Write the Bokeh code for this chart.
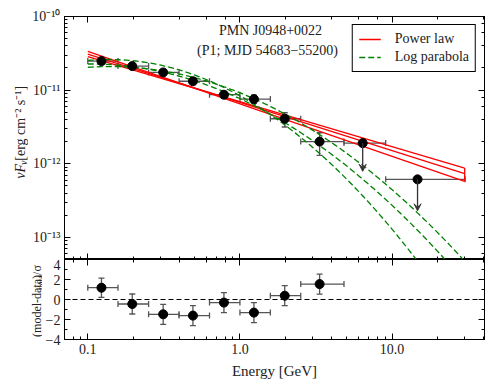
import glob
import struct
import numpy as np
from bokeh.plotting import figure
from bokeh.layouts import column, row
from bokeh.models import (ColumnDataSource, Whisker, TeeHead, Arrow, VeeHead, Span,
                          LogAxis, LinearAxis, Range1d, FixedTicker, CustomJSTickFormatter,
                          Legend, LegendItem, Label, LogTicker)
from bokeh.core.properties import value
from bokeh.embed import file_html
from bokeh.resources import INLINE

FONT = "Liberation Serif"

# ---------------- data ----------------
# SED flux points (GeV, erg cm^-2 s^-1)
energy = [0.123, 0.196, 0.313, 0.491, 0.785, 1.236, 1.97, 3.34]
e_lo = [0.100, 0.158, 0.251, 0.398, 0.631, 1.000, 1.585, 2.51]
e_hi = [0.158, 0.251, 0.398, 0.631, 1.000, 1.585, 2.51, 4.83]
flux = [2.48e-11, 2.12e-11, 1.74e-11, 1.32e-11, 8.67e-12, 7.55e-12, 4.09e-12, 2.00e-12]
flux_lo = [2.30e-11, 1.96e-11, 1.61e-11, 1.21e-11, 7.90e-12, 6.60e-12, 3.16e-12, 1.30e-12]
flux_hi = [2.66e-11, 2.28e-11, 1.87e-11, 1.43e-11, 9.50e-12, 8.55e-12, 4.93e-12, 2.64e-12]

# upper limits
ul_energy = [6.41, 14.7]
ul_lo = [4.83, 9.08]
ul_hi = [9.08, 30.2]
ul_flux = [1.91e-12, 6.14e-13]
ul_tip = [7.9e-13, 2.3e-13]

# residuals (model-data)/sigma
residual = [1.18, -0.45, -1.48, -1.61, -0.31, -1.31, 0.38, 1.54]
residual_err = [0.96, 1.0, 1.0, 1.0, 1.0, 1.0, 1.0, 1.0]

# power-law butterfly: end points of the three lines
pl_energy = [0.1, 30.0]
pl_lines = [
    [3.35e-11, 5.77e-13],
    [3.09e-11, 7.35e-13],
    [2.86e-11, 8.75e-13],
]

# log-parabola curves: log10(nuFnu) = a + b*log10(E) + c*log10(E)^2
lp_a = [-11.036, -11.116, -11.077]
lp_b = [-0.831, -0.960, -1.146]
lp_c = [-0.485, -0.489, -0.666]
lp_emin, lp_emax = 0.1, 30.0

res_ticks = [-4, -2, 0, 2, 4]
res_minor = [-3, -1, 1, 3]

RED = "#ff0000"
GREEN = "#008000"
ERR = "#555555"
TXT = "#222222"

X_MIN, X_MAX = 0.0703, 40.5
Y_MIN, Y_MAX = 10 ** -13.3, 1e-10
R_MIN, R_MAX = -4, 4

# layout (pixels)
LAB1, LAB2 = 28, 42          # widths of the y-label strips
FRAME_L = 64                 # frame left edge on the page
BR, BT = 4, 16
FW, FH1, FH2 = 420, 243, 80
BB2 = 42
H1 = BT + FH1
H2 = FH2 + BB2

XR = Range1d(X_MIN, X_MAX)


# ---------- text width measurement from the installed font files ----------
def _load_font(fname):
    paths = (glob.glob("/usr/share/fonts/**/" + fname, recursive=True) +
             glob.glob("/usr/local/share/fonts/**/" + fname, recursive=True))
    if not paths:
        return None
    try:
        data = open(paths[0], "rb").read()
        ntab = struct.unpack(">H", data[4:6])[0]
        tabs = {}
        for i in range(ntab):
            rec = data[12 + 16 * i: 28 + 16 * i]
            tabs[rec[:4].decode("latin1")] = struct.unpack(">I", rec[8:12])[0]
        upm = struct.unpack(">H", data[tabs["head"] + 18: tabs["head"] + 20])[0]
        nhm = struct.unpack(">H", data[tabs["hhea"] + 34: tabs["hhea"] + 36])[0]
        hm = tabs["hmtx"]
        adv = [struct.unpack(">H", data[hm + 4 * i: hm + 4 * i + 2])[0] for i in range(nhm)]
        cm = tabs["cmap"]
        n = struct.unpack(">H", data[cm + 2: cm + 4])[0]
        sub = None
        for i in range(n):
            pid, eid, off = struct.unpack(">HHI", data[cm + 4 + 8 * i: cm + 12 + 8 * i])
            if (pid, eid) in ((3, 1), (0, 3), (0, 4)):
                fmt = struct.unpack(">H", data[cm + off: cm + off + 2])[0]
                if fmt == 4:
                    sub = cm + off
                    break
        if sub is None:
            return None
        seg2 = struct.unpack(">H", data[sub + 6: sub + 8])[0]
        seg = seg2 // 2
        ends = struct.unpack(">%dH" % seg, data[sub + 14: sub + 14 + seg2])
        starts_off = sub + 16 + seg2
        starts = struct.unpack(">%dH" % seg, data[starts_off: starts_off + seg2])
        deltas = struct.unpack(">%dh" % seg, data[starts_off + seg2: starts_off + 2 * seg2])
        ro_off = starts_off + 2 * seg2
        ros = struct.unpack(">%dH" % seg, data[ro_off: ro_off + seg2])

        def gid(c):
            for i in range(seg):
                if ends[i] >= c:
                    if starts[i] > c:
                        return 0
                    if ros[i] == 0:
                        return (c + deltas[i]) & 0xFFFF
                    addr = ro_off + 2 * i + ros[i] + 2 * (c - starts[i])
                    g = struct.unpack(">H", data[addr: addr + 2])[0]
                    return (g + deltas[i]) & 0xFFFF if g else 0
            return 0

        def width(text, size):
            tot = 0.0
            for ch in text:
                g = gid(ord(ch))
                if g == 0:
                    tot += 0.5 * upm
                else:
                    tot += adv[min(g, nhm - 1)]
            return tot * size / upm
        return width
    except Exception:
        return None


_w_reg = _load_font("LiberationSerif-Regular.ttf")
_w_ita = _load_font("LiberationSerif-Italic.ttf")


def text_w(text, size, italic=False):
    f = _w_ita if italic else _w_reg
    if f is None:
        return 0.48 * size * len(text)
    return f(text, size)


def x_at(px_from_left):
    lmin, lmax = np.log10(X_MIN), np.log10(X_MAX)
    return 10 ** (lmin + px_from_left * (lmax - lmin) / FW)


def y_top_at(px_from_top):
    lmin, lmax = np.log10(Y_MIN), np.log10(Y_MAX)
    return 10 ** (lmax - px_from_top * (lmax - lmin) / FH1)


def style_axis(ax, labels=True):
    ax.axis_line_color = "black"
    ax.axis_line_width = 1
    ax.major_tick_in = 6
    ax.major_tick_out = 0
    ax.minor_tick_in = 3
    ax.minor_tick_out = 0
    ax.major_tick_line_color = "black"
    ax.minor_tick_line_color = "black"
    ax.major_label_text_font = FONT
    ax.major_label_text_color = TXT
    if labels:
        ax.major_label_text_font_size = "14px"
        ax.major_label_standoff = 4
    else:
        ax.major_label_text_font_size = "0px"
        ax.major_label_standoff = 0
        ax.formatter = CustomJSTickFormatter(code="return '';")


sup_fmt = CustomJSTickFormatter(code="""
const e = Math.round(Math.log10(tick));
const m = {'-':'\u207b','0':'\u2070','1':'\u00b9','2':'\u00b2','3':'\u00b3','4':'\u2074',
           '5':'\u2075','6':'\u2076','7':'\u2077','8':'\u2078','9':'\u2079'};
return '10' + String(e).split('').map(c => m[c]).join('');
""")
x_fmt = CustomJSTickFormatter(code="return tick.toFixed(1);")


def label_strip(width, height):
    f = figure(width=width, height=height, x_range=Range1d(0, width), y_range=Range1d(0, height),
               output_backend="svg", toolbar_location=None, min_border=0, title=None,
               x_axis_location=None, y_axis_location=None)
    f.grid.visible = False
    f.outline_line_color = None
    return f


def vertical_label(fig, pieces, base_x, y_start):
    """pieces: (text, size, italic, dx) drawn one after another, reading upwards"""
    y = y_start
    for t, s, it, dx in pieces:
        fig.text(x=[base_x + dx], y=[y], text=[t], angle=np.pi / 2, text_font=value(FONT),
                 text_font_size="%dpx" % s, text_font_style="italic" if it else "normal",
                 text_baseline="alphabetic", text_align="left", text_color=TXT)
        y += text_w(t, s, it)


def label_len(pieces):
    return sum(text_w(t, s, it) for t, s, it, dx in pieces)


# ---------------- top panel ----------------
p1 = figure(width=FRAME_L - LAB1 + FW + BR, height=H1, x_axis_type="log", y_axis_type="log",
            x_range=XR, y_range=Range1d(Y_MIN, Y_MAX),
            output_backend="svg", toolbar_location=None,
            min_border_left=FRAME_L - LAB1, min_border_right=BR, min_border_top=BT,
            min_border_bottom=0)
p1.grid.visible = False
p1.outline_line_color = "black"
p1.outline_line_width = 1

style_axis(p1.xaxis[0], labels=False)
style_axis(p1.yaxis[0], labels=True)
p1.yaxis[0].formatter = sup_fmt
ax_top = LogAxis(ticker=LogTicker())
style_axis(ax_top, labels=False)
p1.add_layout(ax_top, "above")
ax_right = LogAxis(ticker=LogTicker())
style_axis(ax_right, labels=False)
p1.add_layout(ax_right, "right")

# power-law lines
red_r = []
for ln in pl_lines:
    red_r.append(p1.line(pl_energy, ln, line_color=RED, line_width=1.3))
end_lo = min(l[-1] for l in pl_lines)
end_hi = max(l[-1] for l in pl_lines)
p1.segment(x0=[pl_energy[-1]], y0=[end_lo], x1=[pl_energy[-1]], y1=[end_hi],
           line_color=RED, line_width=1.3)

# log-parabola curves
E = np.logspace(np.log10(lp_emin), np.log10(lp_emax), 300)
L = np.log10(E)
green_r = []
for a, b, c in zip(lp_a, lp_b, lp_c):
    y = 10 ** (a + b * L + c * L ** 2)
    green_r.append(p1.line(E, y, line_color=GREEN, line_width=1.3, line_dash="6 3"))


def whiskers(p, source, yerr=True):
    head = dict(size=6, line_color=ERR, line_width=1.3)
    if yerr:
        p.add_layout(Whisker(source=source, base="x", lower="ylo", upper="yhi", dimension="height",
                             line_color=ERR, line_width=1.3,
                             upper_head=TeeHead(**head), lower_head=TeeHead(**head)))
    p.add_layout(Whisker(source=source, base="y", lower="xlo", upper="xhi", dimension="width",
                         line_color=ERR, line_width=1.3,
                         upper_head=TeeHead(**head), lower_head=TeeHead(**head)))


src = ColumnDataSource(dict(x=energy, y=flux, ylo=flux_lo, yhi=flux_hi, xlo=e_lo, xhi=e_hi))
whiskers(p1, src)
p1.scatter("x", "y", source=src, size=9, fill_color="black", line_color="black")

ul_src = ColumnDataSource(dict(x=ul_energy, y=ul_flux, tip=ul_tip, xlo=ul_lo, xhi=ul_hi))
whiskers(p1, ul_src, yerr=False)
p1.add_layout(Arrow(source=ul_src, x_start="x", y_start="y", x_end="x", y_end="tip",
                    line_color="#333333", line_width=1.3,
                    end=VeeHead(size=7, fill_color="#333333", line_color="#333333")))
p1.scatter("x", "y", source=ul_src, size=9, fill_color="black", line_color="black")

legend = Legend(items=[LegendItem(label="Power law", renderers=[red_r[1]]),
                       LegendItem(label="Log parabola", renderers=[green_r[1]])],
                location="top_right", margin=8, padding=6, spacing=2,
                glyph_width=22, glyph_height=16, label_height=16, label_standoff=14,
                label_text_font=FONT, label_text_font_size="14px", label_text_color=TXT,
                border_line_color="black", border_line_width=1, border_line_alpha=1,
                background_fill_color="white", background_fill_alpha=1)
p1.add_layout(legend)

p1.add_layout(Label(x=x_at(206), y=y_top_at(14), text="PMN J0948+0022", text_font=FONT,
                    text_font_size="14px", text_align="center", text_baseline="middle",
                    text_color=TXT))
p1.add_layout(Label(x=x_at(203), y=y_top_at(34), text="(P1; MJD 54683\u221255200)",
                    text_font=FONT, text_font_size="14px", text_align="center",
                    text_baseline="middle", text_color=TXT))

# y-label strip of the top panel (pixel coordinates, y from the bottom)
lab1 = label_strip(LAB1, H1)
top_pieces = [("\u03bdF", 14, True, 0), ("\u03bd", 10, True, 3),
              (" [erg cm\u207b\u00b2 s\u207b\u00b9]", 14, False, 0)]
vertical_label(lab1, top_pieces, base_x=20, y_start=H1 - 122 - label_len(top_pieces) / 2.0)

# ---------------- residual panel ----------------
p2 = figure(width=FRAME_L - LAB2 + FW + BR, height=H2, x_axis_type="log",
            x_range=XR, y_range=Range1d(R_MIN, R_MAX),
            output_backend="svg", toolbar_location=None,
            min_border_left=FRAME_L - LAB2, min_border_right=BR, min_border_top=0,
            min_border_bottom=BB2)
p2.grid.visible = False
p2.outline_line_color = "black"
p2.outline_line_width = 1

style_axis(p2.xaxis[0], labels=True)
p2.xaxis[0].formatter = x_fmt
p2.xaxis[0].axis_label = "Energy [GeV]"
p2.xaxis[0].axis_label_text_font = FONT
p2.xaxis[0].axis_label_text_font_size = "15px"
p2.xaxis[0].axis_label_text_font_style = "normal"
p2.xaxis[0].axis_label_text_color = TXT
p2.xaxis[0].axis_label_standoff = 6

style_axis(p2.yaxis[0], labels=True)
p2.yaxis[0].ticker = FixedTicker(ticks=res_ticks, minor_ticks=res_minor)

ax2_top = LogAxis(ticker=LogTicker())
style_axis(ax2_top, labels=False)
p2.add_layout(ax2_top, "above")
ax2_right = LinearAxis(ticker=FixedTicker(ticks=res_ticks, minor_ticks=res_minor))
style_axis(ax2_right, labels=False)
p2.add_layout(ax2_right, "right")

p2.add_layout(Span(location=0, dimension="width", line_color="black", line_width=1.2,
                   line_dash="5 3"))

res_src = ColumnDataSource(dict(
    x=energy, y=residual,
    ylo=[r - e for r, e in zip(residual, residual_err)],
    yhi=[r + e for r, e in zip(residual, residual_err)],
    xlo=e_lo, xhi=e_hi))
whiskers(p2, res_src)
p2.scatter("x", "y", source=res_src, size=9, fill_color="black", line_color="black")

lab2 = label_strip(LAB2, H2)
res_pieces = [("(model-data)/\u03c3", 12, False, 0), ("data", 9, False, 3)]
vertical_label(lab2, res_pieces, base_x=36, y_start=4)

layout = column(row(lab1, p1, spacing=0), row(lab2, p2, spacing=0), spacing=0)
open("out.html", "w").write(file_html(layout, INLINE))
